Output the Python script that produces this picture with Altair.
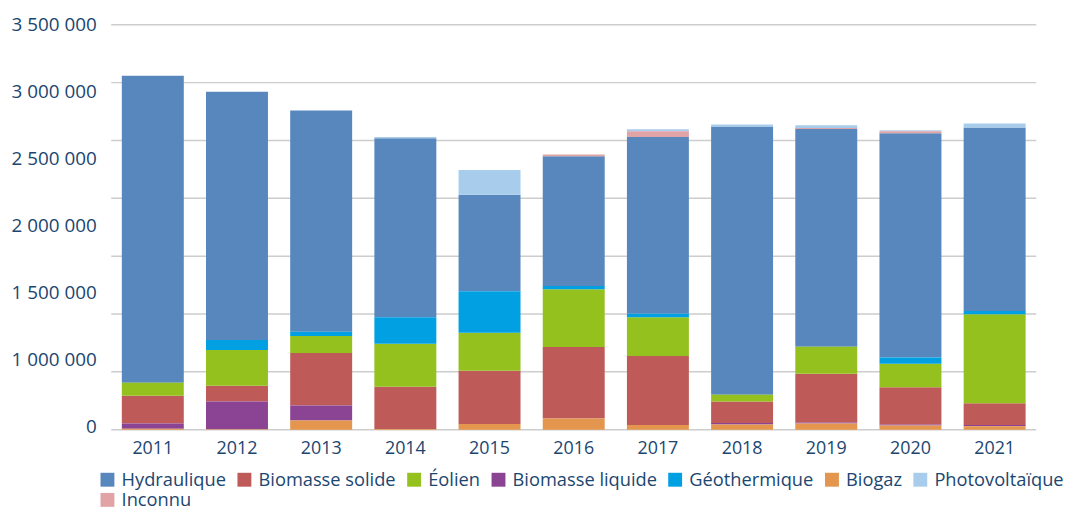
import altair as alt
import pandas as pd

years = ["2011", "2012", "2013", "2014", "2015", "2016", "2017", "2018", "2019", "2020", "2021"]

hydraulique      = [2653000, 2147000, 1912000, 1546000, 833000, 1122000, 1528000, 2318000, 1883000, 1938000, 1588000]
biomasse_solide  = [240000, 137000, 455000, 366000, 461000, 618000, 598000, 186000, 421000, 321000, 189000]
eolien           = [112000, 309000, 146000, 372000, 329000, 498000, 335000, 60000, 232000, 203000, 770000]
biomasse_liquide = [46000, 240000, 129000, 0, 0, 0, 0, 11000, 9000, 9000, 9000]
geothermique     = [0, 86000, 37000, 229000, 358000, 29000, 29000, 0, 0, 54000, 26000]
biogaz           = [8000, 3000, 80000, 6000, 49000, 97000, 40000, 46000, 54000, 37000, 31000]
photovoltaique   = [0, 0, 0, 10000, 215000, 0, 17000, 17000, 23000, 9000, 34000]
inconnu          = [0, 0, 0, 0, 0, 14000, 49000, 0, 9000, 17000, 0]

legend_order = ["Hydraulique", "Biomasse solide", "Éolien", "Biomasse liquide",
                "Géothermique", "Biogaz", "Photovoltaïque", "Inconnu"]
stack_order = ["Biogaz", "Biomasse liquide", "Biomasse solide", "Éolien",
               "Géothermique", "Hydraulique", "Inconnu", "Photovoltaïque"]
colors = ["#5787BD", "#BE5B59", "#95C11F", "#8B4393",
          "#00A0E2", "#E4954E", "#A8CDEC", "#E0A3A6"]

grid_values = [0, 500000, 1000000, 1500000, 2000000, 2500000, 3000000, 3500000]
tick_labels = ["0", "1 000 000", "1 500 000", "2 000 000", "2 500 000", "3 000 000", "3 500 000"]
tick_values = [31000, 609000, 1187000, 1765000, 2344000, 2922000, 3500000]

series = {
    "Hydraulique": hydraulique,
    "Biomasse solide": biomasse_solide,
    "Éolien": eolien,
    "Biomasse liquide": biomasse_liquide,
    "Géothermique": geothermique,
    "Biogaz": biogaz,
    "Photovoltaïque": photovoltaique,
    "Inconnu": inconnu,
}

rows = []
for name, vals in series.items():
    for yr, v in zip(years, vals):
        rows.append({"year": yr, "source": name, "value": v, "rank": stack_order.index(name)})
df = pd.DataFrame(rows)
grid_df = pd.DataFrame({"v": grid_values})

navy = "#1B4670"
FONT = "Open Sans"

# label lookup: each tick value -> its text
label_expr = ""
for v, t in zip(tick_values, tick_labels):
    label_expr += "datum.value == %d ? '%s' : " % (v, t)
label_expr += "''"

yscale = alt.Scale(domain=[0, 3500000], nice=False, zero=True)
yaxis = alt.Axis(title=None, values=tick_values, labelExpr=label_expr,
                 grid=False, ticks=False, domain=False,
                 labelFontSize=19, labelColor=navy, labelFont=FONT,
                 labelPadding=15)

grid = alt.Chart(grid_df).mark_rule(color="#CDCDCD", strokeWidth=1.5).encode(
    y=alt.Y("v:Q", scale=yscale, axis=yaxis)
)

bars = alt.Chart(df).mark_bar().encode(
    x=alt.X("year:N", sort=years,
            scale=alt.Scale(paddingInner=0.264, paddingOuter=0.126),
            axis=alt.Axis(title=None, labelAngle=0, ticks=False, domain=False,
                          labelFontSize=18, labelColor=navy, labelFont=FONT,
                          labelPadding=10)),
    y=alt.Y("value:Q", stack="zero", scale=yscale, axis=yaxis),
    color=alt.Color("source:N",
                    scale=alt.Scale(domain=legend_order, range=colors),
                    legend=alt.Legend(title=None, orient="none", legendX=-13, legendY=449,
                                      direction="horizontal", columns=7,
                                      symbolType="square", symbolSize=196,
                                      symbolStrokeWidth=0, symbolOpacity=1,
                                      labelFontSize=18.4, labelFont=FONT, labelColor=navy,
                                      labelOffset=5, columnPadding=9, rowPadding=1.5,
                                      labelLimit=300)),
    order=alt.Order("rank:Q", sort="ascending"),
)

chart = alt.layer(grid, bars).properties(
    width=932, height=408,
    autosize=alt.AutoSizeParams(type="none"),
    padding={"left": 104, "top": 15, "right": 30, "bottom": 80},
).configure_view(stroke=None)

chart.save("out.html", embed_options={"renderer": "svg", "actions": False})
